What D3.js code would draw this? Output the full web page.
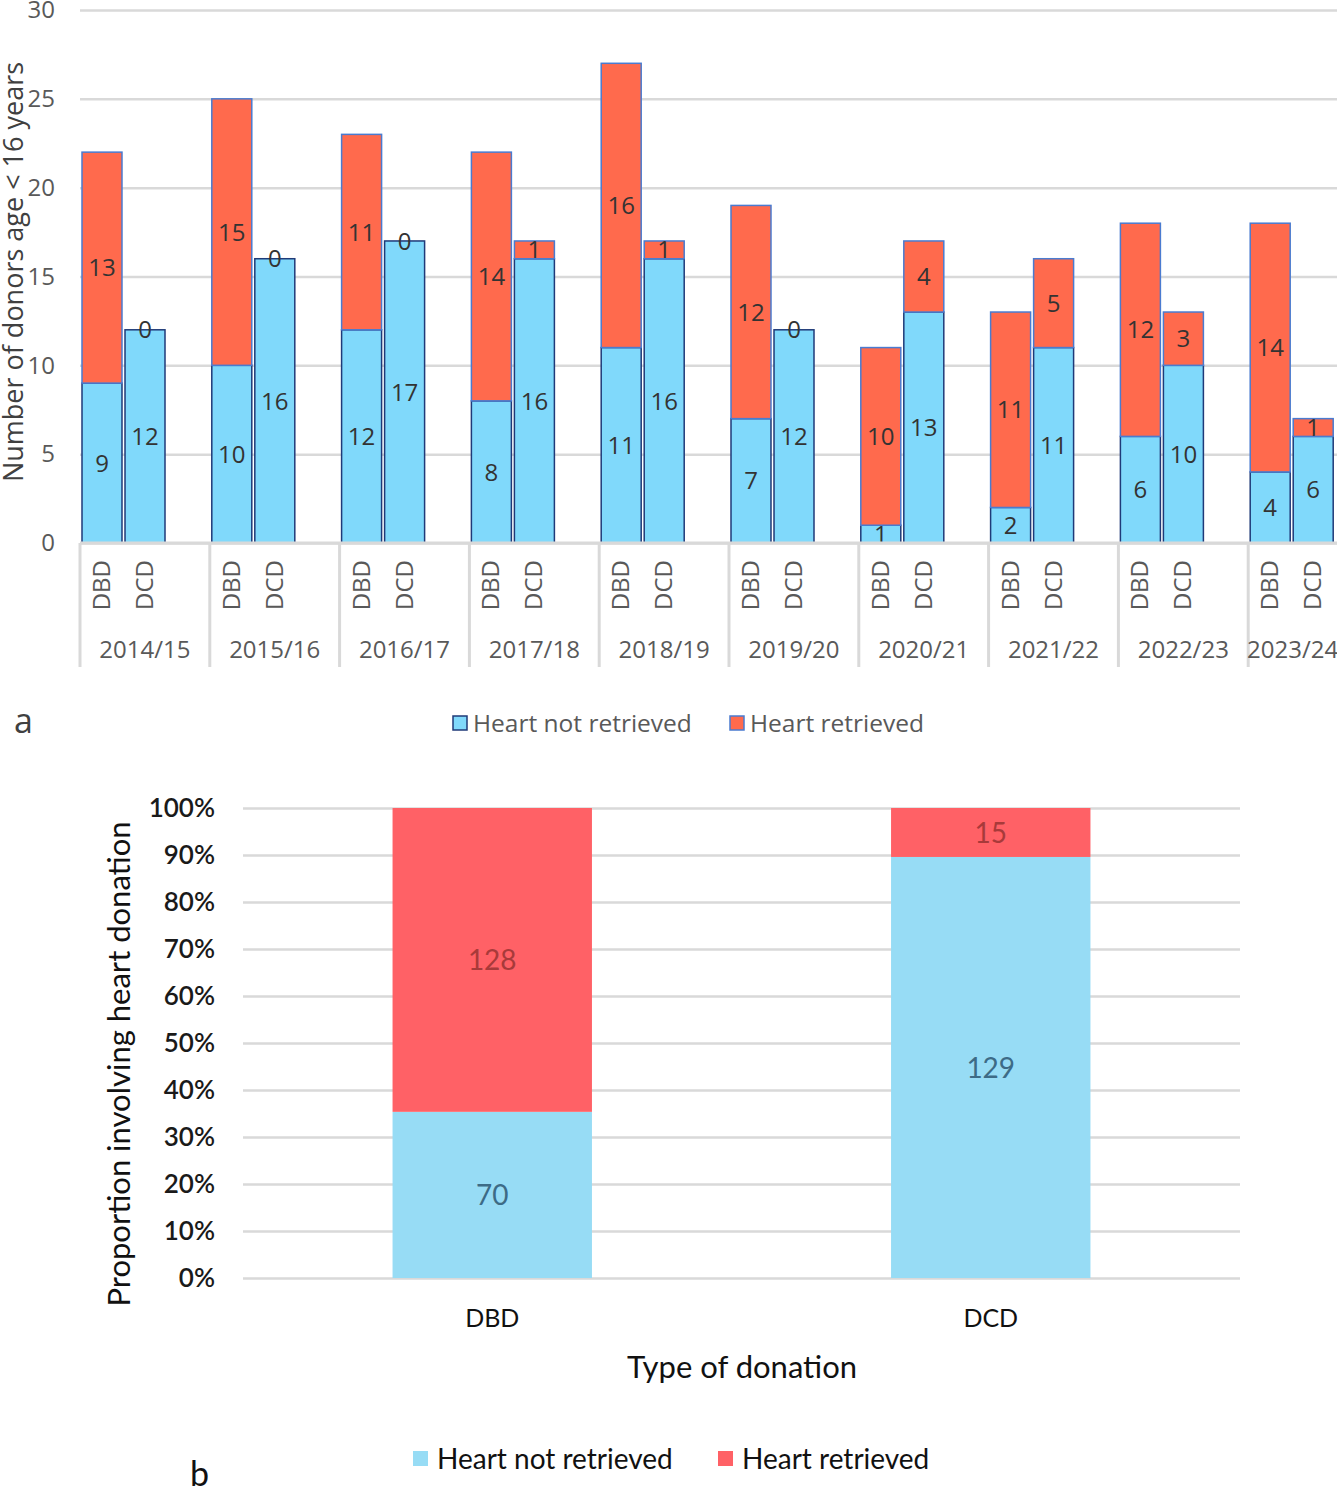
<!DOCTYPE html>
<html>
<head>
<meta charset="utf-8">
<script src="https://cdn.jsdelivr.net/npm/d3@7"></script>
<style>
  body { margin: 0; background: #fff; }
  svg { display: block; }
</style>
</head>
<body>
<div id="chart"></div>
<script>
// panel a: donors < 16 years by year and donation type
const years = ["2014/15", "2015/16", "2016/17", "2017/18", "2018/19", "2019/20", "2020/21", "2021/22", "2022/23", "2023/24"];
const types = ["DBD", "DCD"];
const dbdNotRetrieved = [9, 10, 12, 8, 11, 7, 1, 2, 6, 4];
const dbdRetrieved = [13, 15, 11, 14, 16, 12, 10, 11, 12, 14];
const dcdNotRetrieved = [12, 16, 17, 16, 16, 12, 13, 11, 10, 6];
const dcdRetrieved = [0, 0, 0, 1, 1, 0, 4, 5, 3, 1];
const yTicksA = [0, 5, 10, 15, 20, 25, 30];

// panel b: totals by donation type
const donationTypes = ["DBD", "DCD"];
const totalNotRetrieved = [70, 129];
const totalRetrieved = [128, 15];
const yTicksB = [0, 0.1, 0.2, 0.3, 0.4, 0.5, 0.6, 0.7, 0.8, 0.9, 1];

const width = 1337;
const height = 1493;

const svg = d3.select("#chart").append("svg")
	.attr("width", width)
	.attr("height", height);

// ---------- panel a ----------
const fontA = "'Open Sans', 'Noto Sans', sans-serif";
const textA = "#404040";
const gridCol = "#d9d9d9";
const blueA = "#80d9fb", blueStrokeA = "#1f3a78";
const redA = "#ff6a4d", redStrokeA = "#4a7bd0";

const leftA = 80, stepA = 129.8;
const x0 = d3.scaleBand().domain(years).range([leftA, leftA + stepA * years.length]).padding(0);
const x1 = d3.scaleBand().domain(types).range([2, 85]).paddingInner(0.07).paddingOuter(0);
const yA = d3.scaleLinear().domain([0, 30]).range([543, 10]);

const gA = svg.append("g");

// gridlines + tick labels
const axA = gA.append("g")
	.attr("transform", `translate(${leftA},0)`)
	.call(d3.axisLeft(yA).tickValues(yTicksA).tickSize(-(width - leftA)).tickPadding(25));
axA.select(".domain").remove();
axA.selectAll(".tick line").attr("stroke", gridCol).attr("stroke-width", 2.5);
axA.selectAll(".tick text")
	.attr("fill", "#595959")
	.style("font-family", fontA)
	.style("font-size", "24px");

gA.append("text")
	.attr("transform", `translate(23,272) rotate(-90)`)
	.attr("text-anchor", "middle")
	.attr("fill", textA)
	.style("font-family", fontA)
	.style("font-size", "27px")
	.text("Number of donors age < 16 years");

// build stacked rows per year/type
const rowsA = [];
years.forEach((yr, i) => {
	rowsA.push({ year: yr, type: "DBD", not: dbdNotRetrieved[i], ret: dbdRetrieved[i] });
	rowsA.push({ year: yr, type: "DCD", not: dcdNotRetrieved[i], ret: dcdRetrieved[i] });
});

const segs = [];
rowsA.forEach(r => {
	segs.push({ r, key: "not", y0: 0, y1: r.not, v: r.not });
	segs.push({ r, key: "ret", y0: r.not, y1: r.not + r.ret, v: r.ret });
});

const barsA = gA.append("g");
barsA.selectAll("rect")
	.data(segs.filter(s => s.v > 0))
	.join("rect")
	.attr("x", s => x0(s.r.year) + x1(s.r.type))
	.attr("width", x1.bandwidth())
	.attr("y", s => yA(s.y1))
	.attr("height", s => yA(s.y0) - yA(s.y1))
	.attr("fill", s => s.key === "not" ? blueA : redA)
	.attr("stroke", s => s.key === "not" ? blueStrokeA : redStrokeA)
	.attr("stroke-width", 1.5);

gA.append("g").selectAll("text")
	.data(segs)
	.join("text")
	.attr("x", s => x0(s.r.year) + x1(s.r.type) + x1.bandwidth() / 2)
	.attr("y", s => yA((s.y0 + s.y1) / 2))
	.attr("dy", "0.36em")
	.attr("text-anchor", "middle")
	.attr("fill", "#333")
	.style("font-family", fontA)
	.style("font-size", "24px")
	.text(s => s.v);

// category axis
const catY = 543, catBottom = 667;
gA.append("line")
	.attr("x1", leftA).attr("x2", width)
	.attr("y1", catY).attr("y2", catY)
	.attr("stroke", gridCol).attr("stroke-width", 3);

gA.append("g").selectAll("line")
	.data(years)
	.join("line")
	.attr("x1", d => x0(d)).attr("x2", d => x0(d))
	.attr("y1", catY).attr("y2", catBottom)
	.attr("stroke", gridCol).attr("stroke-width", 3);

gA.append("g").selectAll("text")
	.data(rowsA)
	.join("text")
	.attr("transform", r => `translate(${x0(r.year) + x1(r.type) + x1.bandwidth() / 2 + 8},560) rotate(-90)`)
	.attr("text-anchor", "end")
	.attr("fill", "#595959")
	.style("font-family", fontA)
	.style("font-size", "24px")
	.text(r => r.type);

gA.append("g").selectAll("text")
	.data(years)
	.join("text")
	.attr("x", d => (x0(d) + Math.min(x0(d) + x0.bandwidth(), width)) / 2)
	.attr("y", 658)
	.attr("text-anchor", "middle")
	.attr("fill", "#595959")
	.style("font-family", fontA)
	.style("font-size", "24px")
	.text(d => d);

gA.append("text")
	.attr("x", 14).attr("y", 733)
	.attr("fill", textA)
	.style("font-family", fontA)
	.style("font-size", "34px")
	.text("a");

// legend a
const legA = [
	{ label: "Heart not retrieved", fill: blueA, stroke: blueStrokeA, x: 453 },
	{ label: "Heart retrieved", fill: redA, stroke: redStrokeA, x: 730 }
];
const lgA = gA.append("g").selectAll("g").data(legA).join("g")
	.attr("transform", d => `translate(${d.x},716)`);
lgA.append("rect").attr("width", 14).attr("height", 14)
	.attr("fill", d => d.fill).attr("stroke", d => d.stroke).attr("stroke-width", 1.5);
lgA.append("text").attr("x", 20).attr("y", 7).attr("dy", "0.36em")
	.attr("fill", "#595959")
	.style("font-family", fontA).style("font-size", "24.5px")
	.text(d => d.label);

// ---------- panel b ----------
const fontB = "Lato, 'Open Sans', sans-serif";
const blueB = "#97dcf5", redB = "#ff6166";

const xB = d3.scaleBand().domain(donationTypes).range([243, 1240]).paddingInner(0.6).paddingOuter(0.3);
const yB = d3.scaleLinear().domain([0, 1]).range([1278, 808]);

const gB = svg.append("g");
const axB = gB.append("g")
	.attr("transform", `translate(243,0)`)
	.call(d3.axisLeft(yB).tickValues(yTicksB).tickFormat(d3.format(".0%")).tickSize(-(1240 - 243)).tickPadding(28));
axB.select(".domain").remove();
axB.selectAll(".tick line").attr("stroke", gridCol).attr("stroke-width", 2.5);
axB.selectAll(".tick text")
	.attr("fill", "#1a1a1a")
	.style("font-family", fontB)
	.style("font-size", "26px")
	.style("font-weight", "600");

const rowsB = donationTypes.map((t, i) => {
	const tot = totalNotRetrieved[i] + totalRetrieved[i];
	return { type: t, not: totalNotRetrieved[i], ret: totalRetrieved[i], pNot: totalNotRetrieved[i] / tot };
});
const segsB = [];
rowsB.forEach(r => {
	segsB.push({ r, key: "not", y0: 0, y1: r.pNot, v: r.not });
	segsB.push({ r, key: "ret", y0: r.pNot, y1: 1, v: r.ret });
});

gB.append("g").selectAll("rect")
	.data(segsB)
	.join("rect")
	.attr("x", s => xB(s.r.type))
	.attr("width", xB.bandwidth())
	.attr("y", s => yB(s.y1))
	.attr("height", s => yB(s.y0) - yB(s.y1))
	.attr("fill", s => s.key === "not" ? blueB : redB);

gB.append("g").selectAll("text")
	.data(segsB)
	.join("text")
	.attr("x", s => xB(s.r.type) + xB.bandwidth() / 2)
	.attr("y", s => yB((s.y0 + s.y1) / 2))
	.attr("dy", "0.36em")
	.attr("text-anchor", "middle")
	.attr("fill", s => s.key === "not" ? "#3d6b86" : "#a83a3a")
	.style("font-family", fontB)
	.style("font-size", "28px")
	.text(s => s.v);

gB.append("g").selectAll("text")
	.data(donationTypes)
	.join("text")
	.attr("x", d => xB(d) + xB.bandwidth() / 2)
	.attr("y", 1318)
	.attr("dy", "0.36em")
	.attr("text-anchor", "middle")
	.attr("fill", "#111")
	.style("font-family", fontB)
	.style("font-size", "25px")
	.text(d => d);

gB.append("text")
	.attr("x", 742).attr("y", 1367).attr("dy", "0.36em")
	.attr("text-anchor", "middle")
	.attr("fill", "#111")
	.style("font-family", fontB)
	.style("font-size", "31px")
	.text("Type of donation");

gB.append("text")
	.attr("transform", `translate(130,1064) rotate(-90)`)
	.attr("text-anchor", "middle")
	.attr("fill", "#111")
	.style("font-family", fontB)
	.style("font-size", "31px")
	.text("Proportion involving heart donation");

const legB = [
	{ label: "Heart not retrieved", fill: blueB, x: 413 },
	{ label: "Heart retrieved", fill: redB, x: 718 }
];
const lgB = gB.append("g").selectAll("g").data(legB).join("g")
	.attr("transform", d => `translate(${d.x},1451)`);
lgB.append("rect").attr("width", 15).attr("height", 15).attr("fill", d => d.fill);
lgB.append("text").attr("x", 24).attr("y", 8).attr("dy", "0.36em")
	.attr("fill", "#111")
	.style("font-family", fontB).style("font-size", "28px")
	.text(d => d.label);

gB.append("text")
	.attr("x", 190).attr("y", 1486)
	.attr("fill", "#111")
	.style("font-family", fontB)
	.style("font-size", "34px")
	.text("b");
</script>
</body>
</html>
